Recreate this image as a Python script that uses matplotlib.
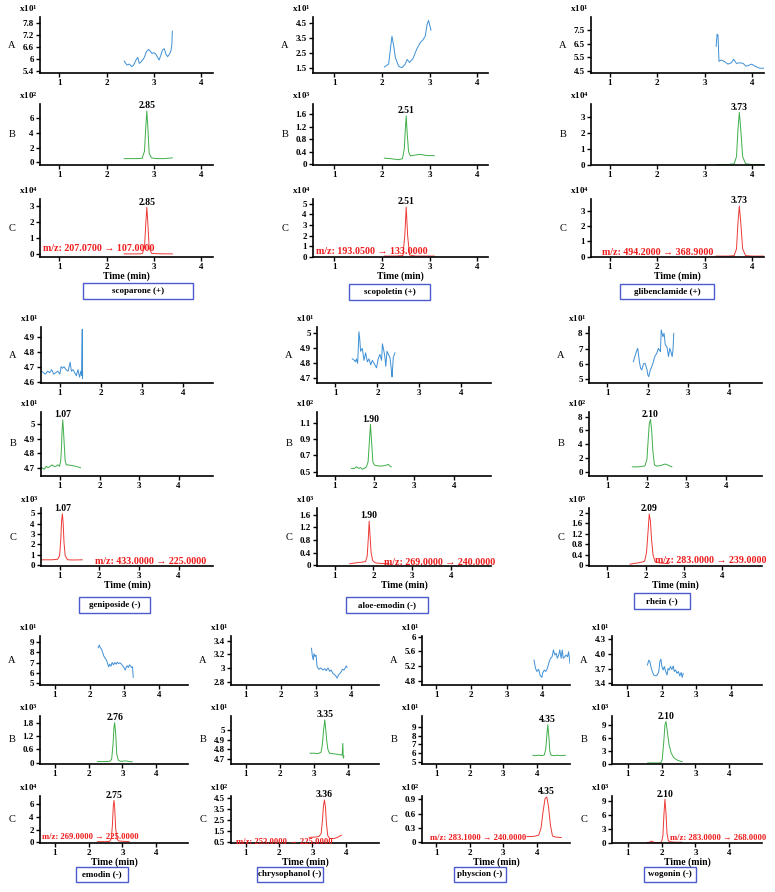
import matplotlib
matplotlib.use('Agg')
import matplotlib.pyplot as plt
from matplotlib.patches import Rectangle

plt.rcParams['font.family'] = ['Liberation Serif', 'DejaVu Serif']
plt.rcParams['font.weight'] = 'bold'
plt.rcParams['mathtext.fontset'] = 'custom'
plt.rcParams['mathtext.rm'] = 'Liberation Serif'
plt.rcParams['mathtext.default'] = 'regular'

W, H = 775, 892
BLUE, GREEN, RED = '#3d8fd6', '#3fae49', '#ec3a35'

# ---------------- data (time in min, intensity in axis units) ----------------
# scoparone (+)
scoparone_A_t = [2.37, 2.43, 2.48, 2.53, 2.57, 2.62, 2.66, 2.69, 2.73, 2.77, 2.80, 2.84, 2.89, 2.93,
                 2.96, 3.00, 3.04, 3.07, 3.11, 3.14, 3.18, 3.22, 3.25, 3.29, 3.33, 3.36, 3.38, 3.39]
scoparone_A_y = [5.90, 5.70, 5.75, 5.62, 5.70, 5.95, 6.08, 5.78, 5.86, 5.98, 6.10, 6.37, 6.48, 6.37,
                 6.28, 6.32, 6.25, 6.12, 5.95, 6.15, 6.45, 6.52, 6.27, 6.12, 6.25, 6.40, 6.75, 7.40]
scoparone_B_t = [2.37, 2.50, 2.65, 2.75, 2.80, 2.83, 2.85, 2.87, 2.90, 2.95, 3.05, 3.20, 3.39]
scoparone_B_y = [0.50, 0.50, 0.50, 0.55, 1.50, 5.00, 7.00, 5.00, 1.20, 0.60, 0.50, 0.50, 0.60]
scoparone_C_t = [2.37, 2.60, 2.75, 2.80, 2.83, 2.85, 2.87, 2.90, 2.95, 3.10, 3.39]
scoparone_C_y = [0.02, 0.02, 0.03, 0.40, 2.00, 2.90, 2.00, 0.40, 0.05, 0.03, 0.02]

# scopoletin (+)
scopoletin_A_t = [2.05, 2.14, 2.18, 2.21, 2.25, 2.28, 2.35, 2.42, 2.49, 2.53, 2.58, 2.65, 2.74,
                  2.81, 2.86, 2.91, 2.95, 2.98, 3.03]
scopoletin_A_y = [1.55, 1.75, 2.80, 3.60, 2.90, 2.20, 1.60, 1.50, 1.75, 2.05, 1.85, 2.10, 2.80,
                  3.20, 3.35, 3.60, 4.40, 4.65, 4.00]
scopoletin_B_t = [2.05, 2.20, 2.35, 2.43, 2.47, 2.49, 2.51, 2.53, 2.56, 2.60, 2.70, 2.80, 2.95, 3.10]
scopoletin_B_y = [0.20, 0.18, 0.15, 0.18, 0.50, 1.10, 1.55, 1.00, 0.40, 0.27, 0.30, 0.32, 0.28, 0.28]
scopoletin_C_t = [2.05, 2.30, 2.44, 2.48, 2.51, 2.54, 2.58, 2.70, 3.10]
scopoletin_C_y = [0.05, 0.05, 0.10, 2.00, 4.70, 2.00, 0.15, 0.05, 0.05]

# glibenclamide (+)
glibenclamide_A_t = [3.24, 3.26, 3.28, 3.30, 3.35, 3.41, 3.49, 3.56, 3.61, 3.67, 3.74, 3.81, 3.87,
                     3.92, 3.99, 4.06, 4.16, 4.25]
glibenclamide_A_y = [6.30, 7.20, 7.10, 5.20, 5.30, 5.20, 5.00, 5.10, 5.35, 5.05, 5.10, 5.05, 4.85,
                     4.90, 5.00, 4.85, 4.70, 4.70]
glibenclamide_B_t = [3.24, 3.50, 3.62, 3.67, 3.70, 3.73, 3.76, 3.80, 3.86, 4.00, 4.25]
glibenclamide_B_y = [0.00, 0.00, 0.05, 0.50, 2.20, 3.30, 2.20, 0.50, 0.05, 0.00, 0.00]
glibenclamide_C_t = [3.24, 3.50, 3.62, 3.67, 3.70, 3.73, 3.76, 3.80, 3.86, 4.00, 4.25]
glibenclamide_C_y = [0.03, 0.03, 0.06, 0.50, 2.20, 3.30, 2.20, 0.50, 0.06, 0.03, 0.03]

# geniposide (-)
geniposide_A_t = [0.55, 0.60, 0.65, 0.70, 0.75, 0.80, 0.85, 0.90, 0.95, 1.00, 1.03, 1.06, 1.10, 1.15,
                  1.20, 1.25, 1.28, 1.32, 1.36, 1.40, 1.44, 1.48, 1.51, 1.53, 1.545, 1.55, 1.555]
geniposide_A_y = [4.67, 4.66, 4.65, 4.67, 4.66, 4.68, 4.65, 4.66, 4.67, 4.65, 4.70, 4.69, 4.70, 4.68,
                  4.67, 4.73, 4.67, 4.68, 4.66, 4.64, 4.68, 4.63, 4.67, 4.64, 4.95, 4.62, 4.66]
geniposide_B_t = [0.54, 0.60, 0.65, 0.70, 0.75, 0.80, 0.85, 0.90, 0.95, 0.99, 1.02, 1.04, 1.05, 1.07,
                  1.09, 1.11, 1.13, 1.16, 1.20, 1.30, 1.40, 1.52]
geniposide_B_y = [4.70, 4.69, 4.71, 4.70, 4.71, 4.72, 4.71, 4.71, 4.72, 4.71, 4.75, 4.85, 4.94, 5.03,
                  4.95, 4.85, 4.75, 4.72, 4.72, 4.715, 4.71, 4.70]
geniposide_C_t = [0.55, 0.80, 0.95, 1.00, 1.03, 1.05, 1.07, 1.09, 1.11, 1.14, 1.20, 1.35, 1.57]
geniposide_C_y = [0.50, 0.50, 0.55, 0.90, 2.50, 4.30, 4.95, 4.00, 2.20, 0.90, 0.50, 0.48, 0.50]

# aloe-emodin (-)
aloe_A_t = [1.40, 1.45, 1.48, 1.50, 1.53, 1.56, 1.58, 1.60, 1.64, 1.68, 1.72, 1.76, 1.80, 1.84, 1.88,
            1.92, 1.98, 2.02, 2.06, 2.10, 2.12, 2.15, 2.18, 2.20, 2.23, 2.26, 2.30, 2.34, 2.35, 2.38, 2.42]
aloe_A_y = [4.83, 4.82, 4.81, 4.83, 4.80, 5.01, 4.96, 4.88, 4.90, 4.82, 4.87, 4.81, 4.83, 4.79, 4.82,
            4.80, 4.77, 4.83, 4.86, 4.82, 4.93, 4.89, 4.84, 4.78, 4.88, 4.86, 4.84, 4.74, 4.71, 4.84, 4.87]
aloe_B_t = [1.42, 1.50, 1.55, 1.60, 1.65, 1.70, 1.75, 1.80, 1.84, 1.87, 1.90, 1.93, 1.96, 2.00, 2.10,
            2.20, 2.30, 2.35, 2.38, 2.42]
aloe_B_y = [0.54, 0.54, 0.56, 0.54, 0.55, 0.53, 0.54, 0.56, 0.62, 0.85, 1.08, 0.85, 0.62, 0.58, 0.57,
            0.57, 0.58, 0.59, 0.57, 0.56]
aloe_C_t = [1.39, 1.50, 1.60, 1.70, 1.80, 1.84, 1.87, 1.89, 1.91, 1.94, 1.98, 2.05, 2.20, 2.40]
aloe_C_y = [0.05, 0.07, 0.09, 0.10, 0.12, 0.30, 0.90, 1.40, 1.00, 0.40, 0.15, 0.08, 0.06, 0.05]

# rhein (-)
rhein_A_t = [1.64, 1.69, 1.73, 1.75, 1.79, 1.82, 1.85, 1.89, 1.93, 1.98, 2.00, 2.02, 2.06, 2.08, 2.12,
             2.17, 2.22, 2.26, 2.31, 2.33, 2.37, 2.40, 2.43, 2.47, 2.51, 2.54, 2.57, 2.60, 2.62, 2.64]
rhein_A_y = [6.15, 6.59, 6.91, 7.02, 6.15, 5.72, 5.61, 6.00, 6.04, 5.61, 5.28, 5.17, 5.61, 5.72, 6.00,
             6.48, 6.70, 7.02, 6.80, 8.22, 7.78, 8.00, 7.24, 7.13, 6.48, 7.02, 6.80, 6.48, 6.91, 8.00]
rhein_B_t = [1.63, 1.75, 1.85, 1.95, 2.00, 2.03, 2.06, 2.09, 2.12, 2.15, 2.19, 2.25, 2.35, 2.45, 2.50,
             2.55, 2.63]
rhein_B_y = [0.70, 0.70, 0.75, 0.85, 1.80, 4.50, 7.00, 7.60, 6.00, 3.00, 1.00, 0.80, 0.90, 1.10, 1.05,
             0.90, 0.70]
rhein_C_t = [1.59, 1.70, 1.80, 1.90, 1.97, 2.02, 2.06, 2.09, 2.12, 2.15, 2.19, 2.24, 2.35, 2.50, 2.60]
rhein_C_y = [0.05, 0.08, 0.10, 0.13, 0.16, 0.50, 1.30, 1.95, 1.70, 1.00, 0.40, 0.15, 0.10, 0.08, 0.07]

# emodin (-)
emodin_A_t = [2.25, 2.28, 2.31, 2.35, 2.37, 2.41, 2.45, 2.49, 2.52, 2.55, 2.58, 2.62, 2.65, 2.69, 2.73,
              2.77, 2.80, 2.84, 2.88, 2.92, 2.95, 2.99, 3.03, 3.06, 3.09, 3.12, 3.15, 3.18, 3.21, 3.24, 3.26]
emodin_A_y = [8.43, 8.68, 8.43, 8.27, 8.05, 7.63, 7.41, 7.22, 6.90, 6.59, 6.84, 6.65, 7.00, 6.78, 7.00,
              6.84, 7.03, 6.90, 6.97, 6.84, 6.71, 6.52, 6.27, 6.59, 6.68, 6.52, 6.78, 6.68, 6.52, 6.59, 5.57]
emodin_B_t = [2.26, 2.50, 2.62, 2.68, 2.72, 2.75, 2.77, 2.80, 2.83, 2.88, 2.95, 3.10, 3.20, 3.29]
emodin_B_y = [0.05, 0.05, 0.06, 0.15, 0.80, 1.60, 1.80, 1.30, 0.40, 0.10, 0.06, 0.08, 0.05, 0.04]
emodin_C_t = [2.26, 2.50, 2.62, 2.67, 2.70, 2.73, 2.75, 2.77, 2.80, 2.84, 2.90, 3.05, 3.20]
emodin_C_y = [0.10, 0.10, 0.15, 0.60, 2.50, 5.80, 6.60, 5.50, 2.20, 0.50, 0.20, 0.15, 0.10]

# chrysophanol (-)
chryso_A_t = [2.87, 2.89, 2.92, 2.94, 2.97, 3.00, 3.03, 3.08, 3.13, 3.20, 3.25, 3.29, 3.34, 3.39,
              3.43, 3.48, 3.53, 3.58, 3.60, 3.64, 3.68, 3.72, 3.75, 3.79, 3.83, 3.86, 3.88]
chryso_A_y = [3.29, 3.19, 3.12, 3.21, 3.17, 3.19, 3.02, 2.98, 3.00, 2.97, 2.99, 2.96, 3.00, 2.95,
              2.97, 2.92, 2.90, 2.87, 2.85, 2.90, 2.92, 2.95, 2.98, 2.97, 3.00, 3.03, 3.01]
chryso_B_t = [2.88, 3.00, 3.10, 3.20, 3.24, 3.27, 3.31, 3.34, 3.37, 3.40, 3.45, 3.55, 3.65, 3.75,
              3.82, 3.84, 3.85, 3.86, 3.87]
chryso_B_y = [4.76, 4.76, 4.755, 4.77, 4.85, 4.98, 5.10, 5.00, 4.88, 4.80, 4.76, 4.755, 4.75, 4.745,
              4.74, 4.86, 4.72, 4.71, 4.73]
chryso_C_t = [2.90, 3.10, 3.20, 3.26, 3.30, 3.33, 3.36, 3.39, 3.42, 3.46, 3.52, 3.65, 3.75, 3.87]
chryso_C_y = [0.95, 0.98, 1.05, 1.30, 2.50, 3.80, 4.35, 3.70, 2.20, 1.10, 0.85, 0.85, 0.95, 1.15]

# physcion (-)
physcion_A_t = [3.78, 3.82, 3.86, 3.91, 3.95, 4.00, 4.03, 4.07, 4.11, 4.16, 4.21, 4.25, 4.29, 4.33,
                4.37, 4.41, 4.44, 4.48, 4.51, 4.55, 4.58, 4.61, 4.65, 4.69, 4.73, 4.76, 4.80]
physcion_A_y = [5.36, 5.14, 5.05, 5.11, 4.95, 4.89, 5.02, 5.09, 5.05, 5.14, 5.32, 5.41, 5.45, 5.64,
                5.50, 5.55, 5.41, 5.50, 5.64, 5.41, 5.64, 5.41, 5.45, 5.50, 5.45, 5.59, 5.27]
physcion_B_t = [3.88, 3.95, 4.05, 4.15, 4.22, 4.26, 4.29, 4.32, 4.35, 4.38, 4.42, 4.50, 4.60, 4.70, 4.84]
physcion_B_y = [5.75, 5.70, 5.75, 5.70, 5.80, 6.50, 8.00, 9.30, 8.00, 6.20, 5.75, 5.70, 5.75, 5.70, 5.75]
physcion_C_t = [3.70, 3.85, 3.95, 4.05, 4.12, 4.18, 4.24, 4.29, 4.34, 4.40, 4.46, 4.55, 4.72]
physcion_C_y = [0.12, 0.12, 0.13, 0.15, 0.30, 0.65, 0.92, 0.95, 0.75, 0.35, 0.13, 0.11, 0.10]

# wogonin (-)
wogonin_A_t = [1.58, 1.62, 1.65, 1.68, 1.72, 1.76, 1.82, 1.87, 1.91, 1.94, 1.97, 2.00, 2.04, 2.07, 2.11,
               2.15, 2.18, 2.21, 2.25, 2.29, 2.33, 2.36, 2.40, 2.44, 2.48, 2.52, 2.56, 2.59, 2.62]
wogonin_A_y = [3.77, 3.87, 3.84, 3.74, 3.64, 3.57, 3.55, 3.57, 3.64, 3.84, 3.89, 3.74, 3.67, 3.74, 3.64,
               3.57, 3.70, 3.67, 3.74, 3.68, 3.75, 3.64, 3.67, 3.60, 3.64, 3.55, 3.62, 3.52, 3.60]
wogonin_B_t = [1.59, 1.70, 1.80, 1.90, 1.98, 2.02, 2.06, 2.10, 2.13, 2.17, 2.22, 2.28, 2.35, 2.45, 2.55, 2.61]
wogonin_B_y = [0.20, 0.20, 0.20, 0.20, 0.25, 1.00, 4.50, 9.00, 9.80, 7.50, 4.50, 2.60, 1.50, 0.90, 0.60, 0.50]
wogonin_C_t = [1.56, 1.65, 1.70, 1.74, 1.80, 1.90, 2.00, 2.04, 2.07, 2.10, 2.13, 2.16, 2.20, 2.30, 2.45, 2.60]
wogonin_C_y = [0.05, 0.10, 0.35, 0.20, 0.05, 0.05, 0.10, 1.50, 6.00, 9.30, 6.50, 2.00, 0.40, 0.15, 0.10, 0.10]

names = ['scoparone (+)', 'scopoletin (+)', 'glibenclamide (+)', 'geniposide (-)', 'aloe-emodin (-)',
         'rhein (-)', 'emodin (-)', 'chrysophanol (-)', 'physcion (-)', 'wogonin (-)']
mz_labels = ['m/z: 207.0700 \u2192 107.0000', 'm/z: 193.0500 \u2192 133.0000', 'm/z: 494.2000 \u2192 368.9000',
             'm/z: 433.0000 \u2192 225.0000', 'm/z: 269.0000 \u2192 240.0000', 'm/z: 283.0000 \u2192 239.0000',
             'm/z: 269.0000 \u2192 225.0000', 'm/z: 253.0000 \u2192 225.0000', 'm/z: 283.1000 \u2192 240.0000',
             'm/z: 283.0000 \u2192 268.0000']
peak_B = ['2.85', '2.51', '3.73', '1.07', '1.90', '2.10', '2.76', '3.35', '4.35', '2.10']
peak_C = ['2.85', '2.51', '3.73', '1.07', '1.90', '2.09', '2.75', '3.36', '4.35', '2.10']
exps = [(1, 2, 4), (1, 3, 4), (1, 4, 4), (1, 1, 3), (1, 2, 3), (1, 2, 5), (1, 3, 4), (1, 1, 2), (1, 1, 2), (1, 3, 3)]
yticks = [
    ([5.4, 6, 6.6, 7.2, 7.8], [0, 2, 4, 6], [0, 1, 2, 3]),
    ([1.5, 2.5, 3.5, 4.5], [0, 0.4, 0.8, 1.2, 1.6], [0, 1, 2, 3, 4, 5]),
    ([4.5, 5.5, 6.5, 7.5], [0, 1, 2, 3], [0, 1, 2, 3]),
    ([4.6, 4.7, 4.8, 4.9], [4.7, 4.8, 4.9, 5], [0, 1, 2, 3, 4, 5]),
    ([4.7, 4.8, 4.9, 5], [0.5, 0.7, 0.9, 1.1], [0, 0.4, 0.8, 1.2, 1.6]),
    ([5, 6, 7, 8], [0, 2, 4, 6, 8], [0, 0.4, 0.8, 1.2, 1.6, 2]),
    ([5, 6, 7, 8, 9], [0, 0.6, 1.2, 1.8], [0, 2, 4, 6]),
    ([2.8, 3, 3.2, 3.4], [4.7, 4.8, 4.9, 5], [0.5, 1.5, 2.5, 3.5, 4.5]),
    ([4.8, 5.2, 5.6, 6], [5, 6, 7, 8, 9], [0, 0.3, 0.6, 0.9]),
    ([3.4, 3.7, 4.0, 4.3], [0, 3, 6, 9], [0, 3, 6, 9]),
]
ylims = [
    ((5.30, 8.11), (-0.37, 7.95), (-0.17, 3.41)),
    ((1.15, 4.88), (-0.02, 1.93), (-0.04, 5.47)),
    ((4.35, 8.45), (-0.03, 3.83), (-0.03, 3.76)),
    ((4.591, 4.965), (4.643, 5.085), (-0.10, 5.51)),
    ((4.669, 5.042), (0.447, 1.231), (-0.02, 1.817)),
    ((4.76, 8.41), (-0.63, 8.68), (-0.02, 2.18)),
    ((4.84, 9.55), (-0.06, 2.10), (-0.11, 7.31)),
    ((2.75, 3.47), (4.65, 5.14), (0.44, 4.71)),
    ((4.68, 6.02), (4.73, 10.31), (-0.015, 0.97)),
    ((3.365, 4.36), (-0.05, 11.08), (-0.06, 10.0)),
]
xlims = [
    ((0.59, 4.25),) * 3,
    ((0.55, 4.23),) * 3,
    ((0.60, 4.25),) * 3,
    ((0.54, 4.73), (0.52, 4.87), (0.53, 4.87)),
    ((0.56, 4.71), (0.56, 4.92), (0.55, 5.02)),
    ((0.545, 4.82), (0.535, 4.91), (0.52, 5.03)),
    ((0.57, 4.84), (0.56, 4.94), (0.56, 4.94)),
    ((0.58, 4.79), (0.56, 4.90), (0.55, 5.00)),
    ((0.60, 4.80), (0.58, 4.98), (0.58, 4.98)),
    ((0.55, 4.91), (0.54, 4.96), (0.54, 4.96)),
]
mz_pos = [(0.66, 0.37), (0.62, 0.44), (0.84, 0.28), (1.90, 0.32), (2.26, 0.10),
          (2.24, 0.20), (0.61, 0.80), (0.70, 0.50), (0.83, 0.10), (2.25, 0.93)]

traces = [
    ((scoparone_A_t, scoparone_A_y), (scoparone_B_t, scoparone_B_y), (scoparone_C_t, scoparone_C_y)),
    ((scopoletin_A_t, scopoletin_A_y), (scopoletin_B_t, scopoletin_B_y), (scopoletin_C_t, scopoletin_C_y)),
    ((glibenclamide_A_t, glibenclamide_A_y), (glibenclamide_B_t, glibenclamide_B_y),
     (glibenclamide_C_t, glibenclamide_C_y)),
    ((geniposide_A_t, geniposide_A_y), (geniposide_B_t, geniposide_B_y), (geniposide_C_t, geniposide_C_y)),
    ((aloe_A_t, aloe_A_y), (aloe_B_t, aloe_B_y), (aloe_C_t, aloe_C_y)),
    ((rhein_A_t, rhein_A_y), (rhein_B_t, rhein_B_y), (rhein_C_t, rhein_C_y)),
    ((emodin_A_t, emodin_A_y), (emodin_B_t, emodin_B_y), (emodin_C_t, emodin_C_y)),
    ((chryso_A_t, chryso_A_y), (chryso_B_t, chryso_B_y), (chryso_C_t, chryso_C_y)),
    ((physcion_A_t, physcion_A_y), (physcion_B_t, physcion_B_y), (physcion_C_t, physcion_C_y)),
    ((wogonin_A_t, wogonin_A_y), (wogonin_B_t, wogonin_B_y), (wogonin_C_t, wogonin_C_y)),
]

# ---------------- layout (pixels) ----------------
rows = [
    [(17, 73), (104, 165), (199, 257)],
    [(327, 383), (412, 476), (508, 566)],
    [(636, 685), (716, 764), (796, 843)],
]
cols = [(40, 213, 0), (313, 488, 0), (591, 764, 0),
        (41, 213, 1), (317, 491, 1), (589, 762, 1),
        (40, 188, 2), (231, 379, 2), (422, 570, 2), (612, 762, 2)]
boxes = [(83, 283, 193, 299), (349, 284, 430, 300), (620, 284, 714, 299),
         (79, 597, 150, 613), (346, 597, 428, 613), (634, 593, 690, 609),
         (76, 867, 128, 882), (257, 867, 323, 882), (454, 867, 506, 882), (644, 867, 696, 882)]
mz_size = [7.2, 7.2, 6.2]

fig = plt.figure(figsize=(W / 100, H / 100), dpi=100)


def fmt(v):
    return '%g' % v


for i in range(len(names)):
    left, right, r = cols[i]
    for p in range(3):
        top, bot = rows[r][p]
        ax = fig.add_axes([left / W, 1 - bot / H, (right - left) / W, (bot - top) / H])
        t, y = traces[i][p]
        color = [BLUE, GREEN, RED][p]
        ax.plot(t, y, color=color, lw=0.7)
        ax.set_xlim(*xlims[i][p])
        ax.set_ylim(*ylims[i][p])
        for s in ['top', 'right']:
            ax.spines[s].set_visible(False)
        for s in ['left', 'bottom']:
            ax.spines[s].set_linewidth(1.2)
        ax.set_xticks([1, 2, 3, 4])
        ax.set_xticklabels(['1', '2', '3', '4'])
        yt = yticks[i][p]
        ax.set_yticks(yt)
        if i == 9 and p == 0:
            ax.set_yticklabels(['%.1f' % v for v in yt])
        else:
            ax.set_yticklabels([fmt(v) for v in yt])
        ax.tick_params(direction='out', length=3, width=1, labelsize=6.5, pad=1.5)
        ax.patch.set_visible(False)
        # panel letter
        fig.text((left - 28) / W, 1 - (top + bot) / 2 / H, 'ABC'[p], fontsize=7.5,
                 fontweight='normal', ha='center', va='center')
        # multiplier
        ax.annotate('x10$^{%d}$' % exps[i][p], (0, 1), xycoords='axes fraction',
                    xytext=(-1.5, 2), textcoords='offset points',
                    fontsize=6.5, ha='right', va='bottom')
        if p > 0:
            k = y.index(max(y))
            lab = peak_B[i] if p == 1 else peak_C[i]
            ax.annotate(lab, (t[k], y[k]), xytext=(0, 0.5), textcoords='offset points',
                        ha='center', va='bottom', fontsize=7)
        if p == 2:
            ax.text(mz_pos[i][0], mz_pos[i][1], mz_labels[i], color='#ee1c1c', fontsize=mz_size[r],
                    ha='left', va='center')
            fig.text((left + right) / 2 / W, 1 - (bot + 19) / H, 'Time (min)', fontsize=7,
                     ha='center', va='center')
    x0, y0, x1, y1 = boxes[i]
    fig.patches.append(Rectangle((x0 / W, 1 - y1 / H), (x1 - x0) / W, (y1 - y0) / H,
                                 transform=fig.transFigure, fill=False, ec='#4a5bd0', lw=1.0))
    fig.text((x0 + x1) / 2 / W, 1 - (y0 + y1) / 2 / H, names[i], fontsize=6.5,
             ha='center', va='center')

fig.savefig('out.png', dpi=100)
